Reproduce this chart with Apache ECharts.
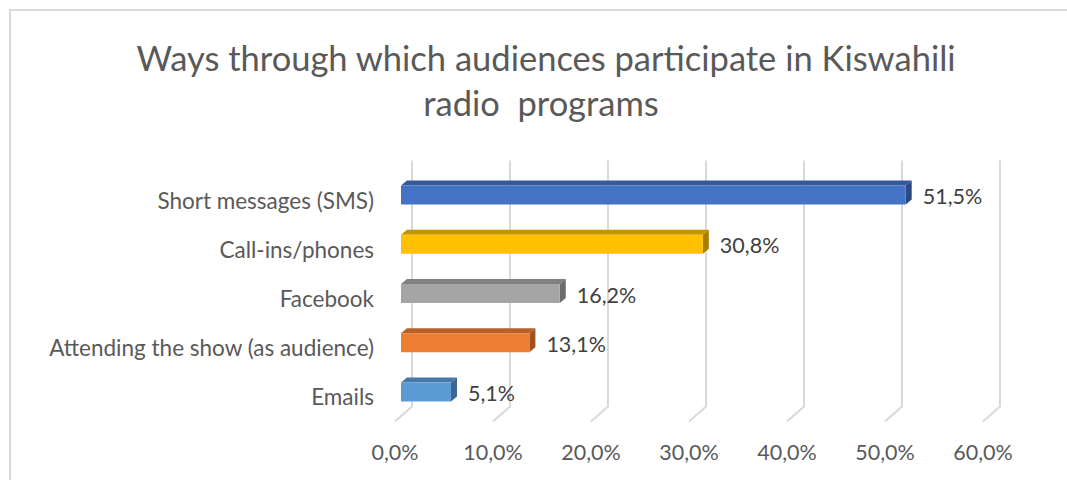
<!DOCTYPE html>
<html>
<head>
<meta charset="utf-8">
<script src="https://cdn.jsdelivr.net/npm/echarts@6/dist/echarts.min.js"></script>
<style>
html,body{margin:0;padding:0;background:#fff;}
#chart{width:1067px;height:480px;}
</style>
</head>
<body>
<div id="chart"></div>
<script>
// ---- data ----
var titleLines = ['Ways through which audiences participate in Kiswahili', 'radio  programs'];
var categories = ['Short messages (SMS)', 'Call-ins/phones', 'Facebook', 'Attending the show (as audience)', 'Emails'];
var values = [51.5, 30.8, 16.2, 13.1, 5.1];
var frontColors = ['#4472C4', '#FFC000', '#A5A5A5', '#ED7D31', '#5B9BD5'];
var topColors = ['#35599a', '#c49400', '#808080', '#b8612a', '#4779a6'];
var sideColors = ['#2b4a82', '#a67d00', '#6c6c6c', '#9c5222', '#3c6790'];
var xTicks = [0, 10, 20, 30, 40, 50, 60];

function pct(v) { return v.toFixed(1).replace('.', ',') + '%'; }

var FONT = 'Lato, "Open Sans", sans-serif';
var chart = echarts.init(document.getElementById('chart'), null, {renderer: 'svg'});

// 3D offsets
var BAR_D = [6, -5];      // bar depth
var BAR_SHIFT = [6, -5];  // bar front face vs front floor layer
var WALL_D = [17, -15];   // back wall vs front floor

var barData = values.map(function (v, i) { return [v, i]; });
var gridData = xTicks.map(function (t) { return [t, 0]; });

var option = {
  backgroundColor: '#fff',
  animation: false,
  graphic: [
    {type: 'rect', shape: {x: 10, y: 10, width: 1200, height: 600}, style: {fill: 'none', stroke: '#d9d9d9', lineWidth: 2}, z: 0},
    {type: 'text', x: 546, y: 57, style: {text: titleLines[0], fill: '#595959', font: '34.5px ' + FONT, textAlign: 'center', textVerticalAlign: 'middle', align: 'center', verticalAlign: 'middle'}},
    {type: 'text', x: 541, y: 102, style: {text: titleLines[1], fill: '#595959', font: '34.5px ' + FONT, textAlign: 'center', textVerticalAlign: 'middle', align: 'center', verticalAlign: 'middle'}}
  ],
  grid: {left: 395, right: 84, top: 175.4, bottom: 58.4},
  xAxis: {
    type: 'value', min: 0, max: 60, interval: 10,
    axisLine: {show: false}, axisTick: {show: false}, splitLine: {show: false},
    axisLabel: {formatter: function (v) { return pct(v); }, color: '#595959', fontSize: 21.5, fontFamily: FONT, margin: 19}
  },
  yAxis: {
    type: 'category', inverse: true, data: categories,
    axisLine: {show: false}, axisTick: {show: false}, splitLine: {show: false},
    axisLabel: {color: '#595959', fontSize: 22.5, fontFamily: FONT, margin: 21}
  },
  series: [
    {
      type: 'custom', z: 1, silent: true, clip: false,
      data: gridData,
      renderItem: function (params, api) {
        var cs = params.coordSys;
        var x = api.coord([api.value(0), 0])[0];
        var bottom = cs.y + cs.height;
        return {
          type: 'polyline',
          shape: {points: [[x + WALL_D[0], cs.y + WALL_D[1]], [x + WALL_D[0], bottom + WALL_D[1]], [x, bottom]]},
          style: {stroke: '#d9d9d9', lineWidth: 2, fill: 'none'}
        };
      }
    },
    {
      type: 'custom', z: 2, silent: true, clip: false,
      data: barData,
      renderItem: function (params, api) {
        var i = params.dataIndex;
        var v = api.value(0);
        var p = api.coord([v, api.value(1)]);
        var p0 = api.coord([0, api.value(1)]);
        var band = api.size([0, 1])[1];
        var h = band * 0.39;
        var x0 = p0[0] + BAR_SHIFT[0], x1 = p[0] + BAR_SHIFT[0];
        var cy = p[1] + BAR_SHIFT[1];
        var yt = cy - h / 2, yb = cy + h / 2;
        var dx = BAR_D[0], dy = BAR_D[1];
        return {
          type: 'group',
          children: [
            {type: 'polygon', shape: {points: [[x0, yt], [x1, yt], [x1 + dx, yt + dy], [x0 + dx, yt + dy]]}, style: {fill: topColors[i]}},
            {type: 'polygon', shape: {points: [[x1, yt], [x1 + dx, yt + dy], [x1 + dx, yb + dy], [x1, yb]]}, style: {fill: sideColors[i]}},
            {type: 'rect', shape: {x: x0, y: yt, width: x1 - x0, height: h}, style: {fill: frontColors[i]}},
            {type: 'text', x: p[0] + 23, y: p[1] - 4, style: {text: pct(v), fill: '#404040', font: '21.5px ' + FONT, align: 'left', verticalAlign: 'middle', textAlign: 'left', textVerticalAlign: 'middle'}}
          ]
        };
      },
      encode: {x: 0, y: 1}
    }
  ]
};
chart.setOption(option);
</script>
</body>
</html>
